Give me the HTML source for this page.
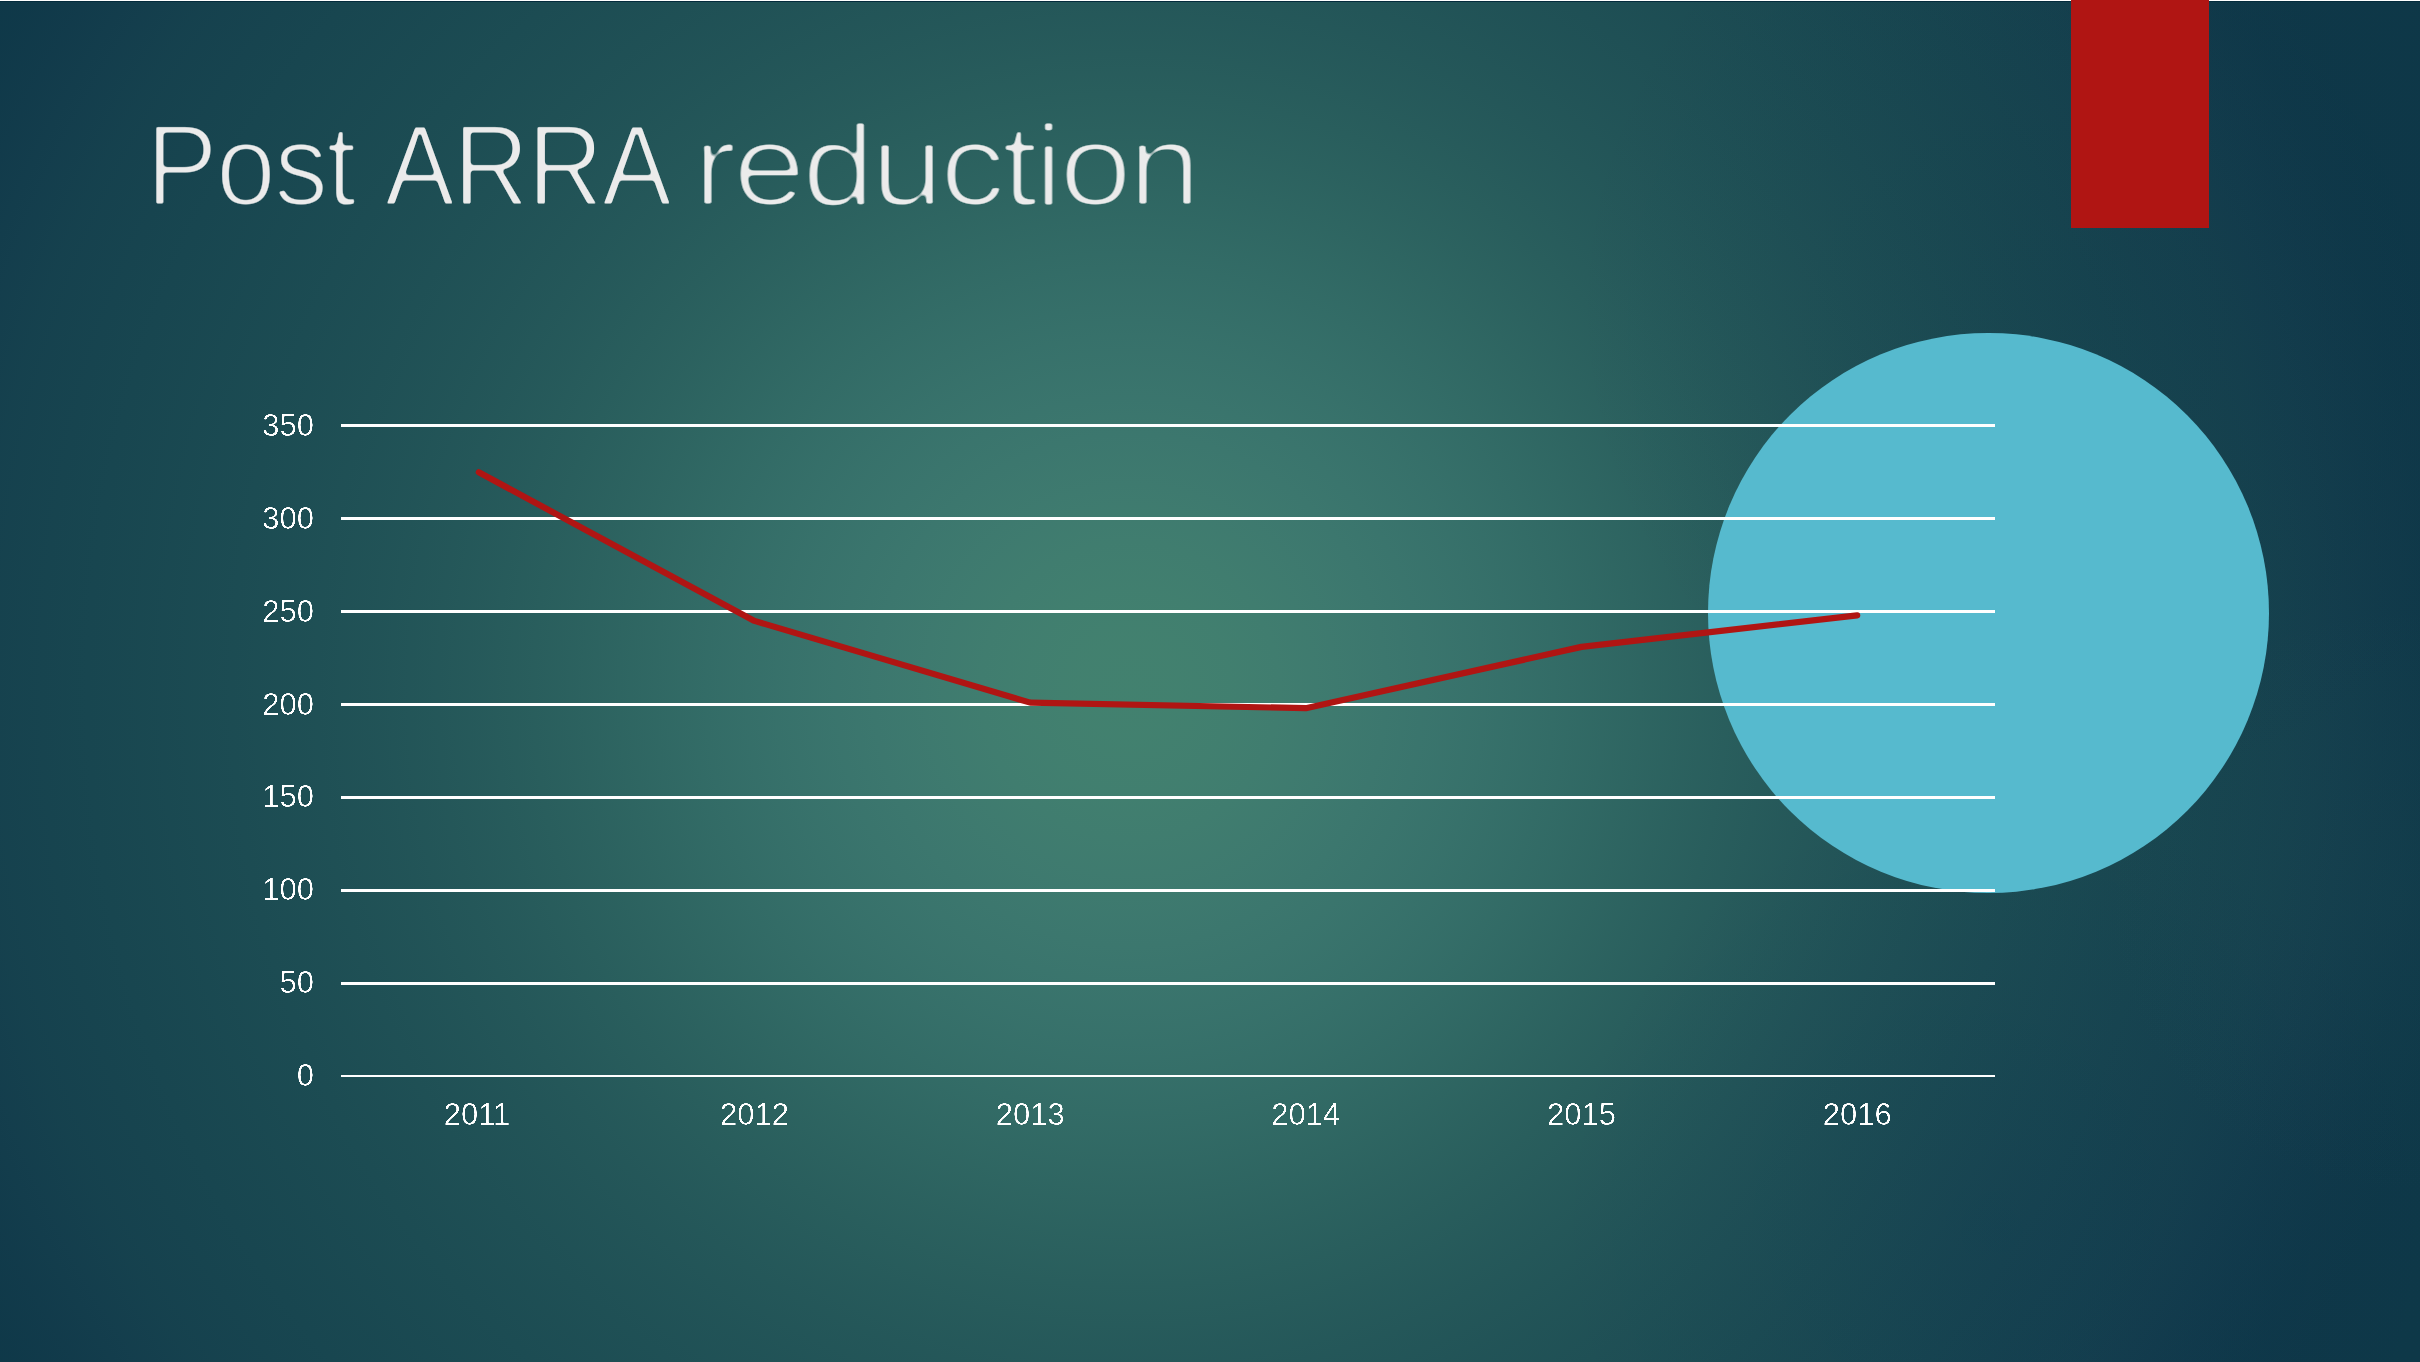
<!DOCTYPE html>
<html lang="en">
<head>
<meta charset="utf-8">
<title>Post ARRA reduction</title>
<style>
  html, body { margin: 0; padding: 0; }
  body {
    width: 2420px; height: 1362px; overflow: hidden; position: relative;
    background: #0f3849;
    font-family: "Liberation Sans", sans-serif;
  }
  .bg {
    position: absolute; left: 0; top: 0; width: 2420px; height: 1362px;
    background:
      radial-gradient(circle at 2080px 300px, rgba(4,34,66,0.10) 0px, rgba(4,34,66,0.05) 250px, rgba(4,34,66,0) 520px),
      radial-gradient(circle at 2000px 1230px, rgba(0,30,86,0.11) 0px, rgba(0,30,86,0.055) 220px, rgba(0,30,86,0) 450px),
      radial-gradient(circle at 2400px 900px, rgba(70,130,115,0.05) 0px, rgba(70,130,115,0) 300px),
      radial-gradient(circle at 1130px 690px, rgb(66.2,129.0,110.8) 0px, rgb(66.0,128.5,110.9) 50px, rgb(65.2,127.0,111.1) 100px, rgb(64.0,124.9,111.1) 150px, rgb(62.3,122.3,110.9) 200px, rgb(60.2,119.4,110.2) 250px, rgb(57.8,116.5,108.8) 300px, rgb(55.2,113.3,106.7) 350px, rgb(52.4,109.8,104.1) 400px, rgb(49.5,106.0,101.1) 450px, rgb(46.6,101.9,98.0) 500px, rgb(43.7,97.7,95.2) 550px, rgb(40.9,93.7,92.7) 600px, rgb(38.2,89.8,90.6) 650px, rgb(35.8,86.4,88.7) 700px, rgb(33.5,83.3,87.0) 750px, rgb(31.5,80.6,85.5) 800px, rgb(29.7,78.1,84.1) 850px, rgb(28.0,75.9,82.9) 900px, rgb(26.5,73.8,81.8) 950px, rgb(25.1,71.7,80.7) 1000px, rgb(23.8,69.7,79.8) 1050px, rgb(22.7,67.5,78.9) 1100px, rgb(21.5,65.3,78.0) 1150px, rgb(19.8,62.0,76.8) 1200px, rgb(17.6,59.0,75.0) 1250px, rgb(15.4,56.9,73.2) 1300px, rgb(14.2,56.0,72.2) 1350px, rgb(14.0,56.0,72.0) 1450px);
  }
  .topline { position: absolute; left: 0; top: 0; width: 2420px; height: 1px; background: #ffffff; }
  .topline2 { position: absolute; left: 0; top: 1px; width: 2420px; height: 1px; background: #042b3c; }
  .redtab { position: absolute; left: 2071px; top: 0; width: 138px; height: 228px; background: #b01513; }
  .circle { position: absolute; left: 1708.1px; top: 332.7px; width: 560.9px; height: 560.7px; border-radius: 50%; background: #56bace; }
  .title {
    position: absolute; left: 0; top: 107px; margin: 0; font-weight: normal;
    font-size: 115.6px; line-height: 1; color: #ebebeb; white-space: nowrap;
  }
  .title .w { position: relative; display: inline-block; vertical-align: baseline; }
  .title .w span { display: inline-block; transform-origin: 0 50%; }
  svg.chart { position: absolute; left: 0; top: 0; }
  svg.chart text { font-family: "Liberation Sans", sans-serif; font-size: 31px; fill: #ffffff; }
</style>
</head>
<body>
<svg width="0" height="0" style="position:absolute">
  <defs>
    <filter id="thinS" x="-10%" y="-5%" width="120%" height="110%" color-interpolation-filters="sRGB">
      <feGaussianBlur stdDeviation="0.7"/>
      <feComponentTransfer><feFuncA type="linear" slope="4" intercept="-2.38"/></feComponentTransfer>
    </filter>
    <filter id="thinP" x="-5%" y="-10%" width="150%" height="120%" color-interpolation-filters="sRGB">
      <feGaussianBlur stdDeviation="1.37 1.7"/>
      <feComponentTransfer><feFuncA type="linear" slope="5" intercept="-3.7"/></feComponentTransfer>
    </filter>
    <filter id="thinA" x="-5%" y="-10%" width="150%" height="120%" color-interpolation-filters="sRGB">
      <feGaussianBlur stdDeviation="1.22 1.7"/>
      <feComponentTransfer><feFuncA type="linear" slope="5" intercept="-3.7"/></feComponentTransfer>
    </filter>
    <filter id="thinR" x="-5%" y="-10%" width="150%" height="120%" color-interpolation-filters="sRGB">
      <feGaussianBlur stdDeviation="1.9 1.6"/>
      <feComponentTransfer><feFuncA type="linear" slope="5" intercept="-3.7"/></feComponentTransfer>
    </filter>
  </defs>
</svg>
<div class="bg"></div>
<div class="topline"></div>
<div class="topline2"></div>
<div class="redtab"></div>
<h1 class="title">
  <span class="w" style="left:146px;filter:url(#thinP)"><span style="transform:scaleX(0.931);letter-spacing:-1.8px">Post</span></span>
  <span class="w" style="left:128.77px;filter:url(#thinA)"><span style="transform:scaleX(0.9026);letter-spacing:-1.2px">ARRA</span></span>
  <span class="w" style="left:88.08px;filter:url(#thinR)"><span style="transform:scaleX(1.14);letter-spacing:-3.7px">reduction</span></span>
</h1>
<div class="circle"></div>
<svg class="chart" width="2420" height="1362" viewBox="0 0 2420 1362">
  <g stroke="#ffffff" stroke-width="3" fill="none">
    <line x1="341" y1="425.5" x2="1995" y2="425.5"/>
    <line x1="341" y1="518.5" x2="1995" y2="518.5"/>
    <line x1="341" y1="611.5" x2="1995" y2="611.5"/>
    <line x1="341" y1="704.5" x2="1995" y2="704.5"/>
    <line x1="341" y1="797.5" x2="1995" y2="797.5"/>
    <line x1="341" y1="890.5" x2="1995" y2="890.5"/>
    <line x1="341" y1="983.5" x2="1995" y2="983.5"/>
    <line x1="341" y1="1076" x2="1995" y2="1076" stroke-width="2"/>
  </g>
  <polyline fill="none" stroke="#b01513" stroke-width="6.2" stroke-linecap="round" stroke-linejoin="round"
    points="478.8,472.3 754.5,620.9 1030.2,702.6 1305.8,708.2 1581.5,646.9 1857.2,615.3"/>
  <g text-anchor="end" filter="url(#thinS)">
    <text x="314" y="435.9">350</text>
    <text x="314" y="528.8">300</text>
    <text x="314" y="621.6">250</text>
    <text x="314" y="714.5">200</text>
    <text x="314" y="807.3">150</text>
    <text x="314" y="900.2">100</text>
    <text x="314" y="993.0">50</text>
    <text x="314" y="1085.9">0</text>
  </g>
  <g text-anchor="middle" filter="url(#thinS)">
    <text x="477" y="1125">2011</text>
    <text x="754.5" y="1125">2012</text>
    <text x="1030.2" y="1125">2013</text>
    <text x="1305.8" y="1125">2014</text>
    <text x="1581.5" y="1125">2015</text>
    <text x="1857.2" y="1125">2016</text>
  </g>
</svg>
</body>
</html>
